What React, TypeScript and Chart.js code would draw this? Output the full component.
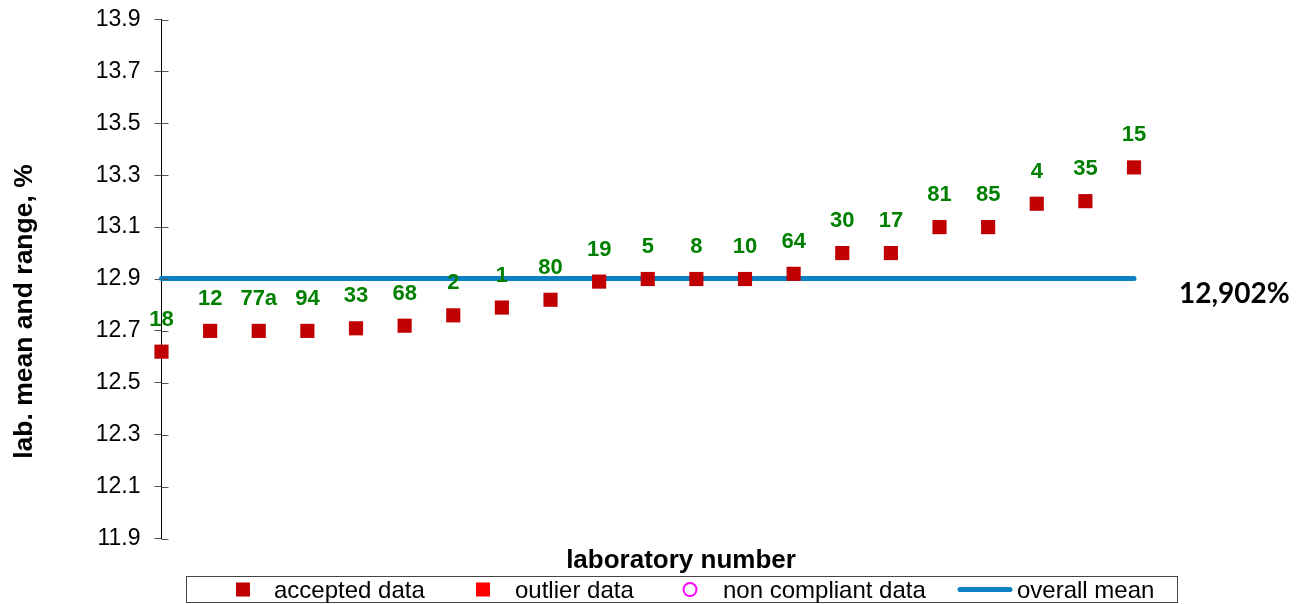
import React, { useEffect, useRef } from "react";
import { Chart, registerables } from "chart.js";

Chart.register(...registerables);

const labNumbers = ["18", "12", "77a", "94", "33", "68", "2", "1", "80", "19", "5", "8", "10", "64", "30", "17", "81", "85", "4", "35", "15"];
const labMeans = [12.62, 12.7, 12.7, 12.7, 12.71, 12.72, 12.76, 12.79, 12.82, 12.89, 12.9, 12.9, 12.9, 12.92, 13.0, 13.0, 13.1, 13.1, 13.19, 13.2, 13.33];
const overallMean = 12.902;
const yMin = 11.9;
const yMax = 13.9;
const yStep = 0.2;
const legendItems = ["accepted data", "outlier data", "non compliant data", "overall mean"];
const yTitle = "lab. mean and range, %";
const xTitle = "laboratory number";

const ACCEPTED = "#c00000";
const OUTLIER = "#ff0000";
const NONCOMP = "#ff00ff";
const MEANCOL = "#0b80c3";
const GREEN = "#008000";
const FONT = "'Liberation Sans', Arial, sans-serif";

const overlay = {
  id: "overlay",
  afterDatasetsDraw(chart: any) {
    const ctx = chart.ctx;
    const { chartArea, scales } = chart;
    const ys = scales.y;
    ctx.save();
    // inner tick marks crossing the axis
    ctx.strokeStyle = "#555";
    ctx.lineWidth = 1;
    ys.ticks.forEach((t: any) => {
      const py = Math.round(ys.getPixelForValue(t.value)) + 0.5;
      ctx.beginPath();
      ctx.moveTo(chartArea.left, py);
      ctx.lineTo(chartArea.left + 7, py);
      ctx.stroke();
    });
    // data labels
    const meta = chart.getDatasetMeta(0);
    ctx.fillStyle = GREEN;
    ctx.font = `bold 22px ${FONT}`;
    ctx.textAlign = "center";
    ctx.textBaseline = "middle";
    meta.data.forEach((pt: any, i: number) => {
      ctx.fillText(labNumbers[i], pt.x, pt.y - 32);
    });
    // mean label
    ctx.fillStyle = "#000";
    ctx.font = `bold 28px Lato, 'Liberation Sans', sans-serif`;
    ctx.textAlign = "left";
    ctx.textBaseline = "middle";
    const meanText = overallMean.toFixed(3).replace(".", ",") + "%";
    ctx.fillText(meanText, 1179, ys.getPixelForValue(overallMean) + 15);
    // y title
    ctx.save();
    ctx.translate(32, 311.5);
    ctx.rotate(-Math.PI / 2);
    ctx.font = `bold 26.5px ${FONT}`;
    ctx.textAlign = "center";
    ctx.textBaseline = "alphabetic";
    ctx.fillText(yTitle, 0, 0);
    ctx.restore();
    // x title
    ctx.font = `bold 26px ${FONT}`;
    ctx.textAlign = "center";
    ctx.textBaseline = "alphabetic";
    ctx.fillText(xTitle, 681, 568);
    // legend
    ctx.strokeStyle = "#444";
    ctx.lineWidth = 1;
    ctx.strokeRect(186.5, 576.5, 991, 26);
    const cy = 589.5;
    ctx.fillStyle = ACCEPTED;
    ctx.fillRect(236, cy - 7, 14, 14);
    ctx.fillStyle = OUTLIER;
    ctx.fillRect(476, cy - 7, 14, 14);
    ctx.strokeStyle = NONCOMP;
    ctx.lineWidth = 2;
    ctx.beginPath();
    ctx.arc(690, cy, 6.5, 0, Math.PI * 2);
    ctx.stroke();
    ctx.strokeStyle = MEANCOL;
    ctx.lineWidth = 5;
    ctx.lineCap = "round";
    ctx.beginPath();
    ctx.moveTo(960, cy);
    ctx.lineTo(1010, cy);
    ctx.stroke();
    ctx.fillStyle = "#000";
    ctx.font = `24px ${FONT}`;
    ctx.textAlign = "left";
    ctx.textBaseline = "alphabetic";
    const xs = [274, 515, 723, 1017];
    legendItems.forEach((t, i) => ctx.fillText(t, xs[i], 597.5));
    ctx.restore();
  },
};

export default function App() {
  const ref = useRef<HTMLCanvasElement | null>(null);
  useEffect(() => {
    if (!ref.current) return;
    const pts = labMeans.map((v, i) => ({ x: i, y: v }));
    const last = labMeans.length - 1;
    const chart = new Chart(ref.current, {
      type: "scatter",
      data: {
        datasets: [
          {
            label: legendItems[0],
            data: pts,
            pointStyle: "rect",
            pointRadius: 10,
            pointBackgroundColor: ACCEPTED,
            pointBorderWidth: 0,
            borderColor: ACCEPTED,
            clip: false,
            order: 1,
          } as any,
          {
            type: "line",
            label: legendItems[3],
            data: [
              { x: 0, y: overallMean },
              { x: last, y: overallMean },
            ],
            borderColor: MEANCOL,
            borderWidth: 5,
            borderCapStyle: "round",
            pointRadius: 0,
            showLine: true,
            clip: false,
            order: 2,
          } as any,
        ],
      },
      options: {
        animation: false,
        responsive: true,
        maintainAspectRatio: false,
        layout: { padding: { left: 0, right: 173, top: 19.5, bottom: 65.5 } },
        plugins: { legend: { display: false }, tooltip: { enabled: false } },
        scales: {
          x: { type: "linear", min: 0, max: last, display: false },
          y: {
            min: yMin,
            max: yMax,
            afterFit: (s: any) => {
              s.width = 161.5;
              s.paddingTop = 0;
              s.paddingBottom = 0;
            },
            border: { display: true, color: "#000", width: 1 },
            grid: { display: true, drawOnChartArea: false, drawTicks: true, tickLength: 7, color: "#555" },
            ticks: {
              stepSize: yStep,
              padding: 14,
              color: "#000",
              font: { family: FONT, size: 23 },
              callback: (v: any) => Number(v).toFixed(1),
            },
          },
        },
      },
      plugins: [overlay],
    });
    return () => chart.destroy();
  }, []);
  return (
    <div style={{ position: "fixed", left: 0, top: 0, width: 1307, height: 604, background: "#fff" }}>
      <canvas ref={ref} />
    </div>
  );
}
